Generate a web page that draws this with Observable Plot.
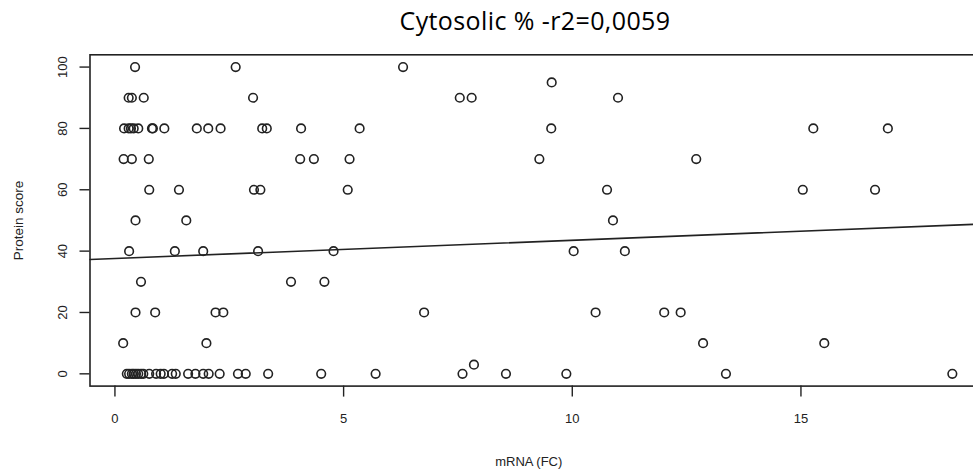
<!DOCTYPE html>
<html>
<head>
<meta charset="utf-8">
<script src="https://cdn.jsdelivr.net/npm/d3@7"></script>
<script src="https://cdn.jsdelivr.net/npm/@observablehq/plot@0.6"></script>
<style>
  body { margin: 0; background: #fff; }
  #title {
    width: 973px; height: 40px; box-sizing: border-box; padding-left: 97px;
    text-align: center; line-height: 40px; letter-spacing: 0.4px;
    font-family: "Open Sans", sans-serif; font-size: 25px; color: #000;
  }
</style>
</head>
<body>
<div id="title">Cytosolic % -r2=0,0059</div>
<div id="chart"></div>
<script>
// mRNA fold change and protein score, grouped by score level
const mRNA = [
  0.44, 2.64, 6.30,
  9.55,
  0.30, 0.37, 0.63, 3.02, 7.54, 7.80, 11.0,
  0.20, 0.30, 0.35, 0.41, 0.51, 0.81, 0.83, 1.08, 1.79, 2.04, 2.31, 3.22, 3.32, 4.07, 5.35, 9.54, 15.27, 16.90,
  0.19, 0.37, 0.74, 4.05, 4.35, 5.13, 9.28, 12.71,
  0.75, 1.40, 3.04, 3.18, 5.09, 10.76, 15.04, 16.62,
  0.45, 1.56, 10.89,
  0.31, 1.31, 1.93, 3.13, 4.78, 10.03, 11.15,
  0.57, 3.85, 4.58,
  0.45, 0.88, 2.20, 2.37, 6.76, 10.51, 12.01, 12.37,
  0.18, 2.00, 12.86, 15.51,
  7.85,
  0.26, 0.31, 0.37, 0.41, 0.46, 0.51, 0.57, 0.62, 0.75, 0.90, 1.00, 1.07, 1.25, 1.33, 1.60, 1.76, 1.93, 2.05, 2.29, 2.69, 2.86, 3.35, 4.51, 5.70, 7.60, 8.55, 9.87, 13.36, 18.31
];
const protein = [
  100, 100, 100,
  95,
  90, 90, 90, 90, 90, 90, 90,
  80, 80, 80, 80, 80, 80, 80, 80, 80, 80, 80, 80, 80, 80, 80, 80, 80, 80,
  70, 70, 70, 70, 70, 70, 70, 70,
  60, 60, 60, 60, 60, 60, 60, 60,
  50, 50, 50,
  40, 40, 40, 40, 40, 40, 40,
  30, 30, 30,
  20, 20, 20, 20, 20, 20, 20, 20,
  10, 10, 10, 10,
  3,
  0, 0, 0, 0, 0, 0, 0, 0, 0, 0, 0, 0, 0, 0, 0, 0, 0, 0, 0, 0, 0, 0, 0, 0, 0, 0, 0, 0, 0
];

// Fitted line coefficients (protein = intercept + slope * mRNA)
const intercept = 37.6;
const slope = 0.593;

const xTicks = [0, 5, 10, 15];
const yTicks = [0, 20, 40, 60, 80, 100];
const xLabel = "mRNA (FC)";
const yLabel = "Protein score";

const points = mRNA.map((x, i) => ({x, y: protein[i]}));

// R-style axis extents: data range padded by 4%
const xExtent = d3.extent(mRNA);
const xPad = (xExtent[1] - xExtent[0]) * 0.04;
const xDomain = [xExtent[0] - xPad, xExtent[1] + xPad];
const yDomain = [-4, 104];

const fitLine = xDomain.map(x => ({x, y: intercept + slope * x}));

const ink = "#222";
const font = "'Liberation Sans', Arial, sans-serif";

const chart = Plot.plot({
  width: 973,
  height: 432,
  marginLeft: 89.5,
  marginRight: -12,
  marginTop: 14.3,
  marginBottom: 86.4,
  x: {domain: xDomain, range: [89.5, 985]},
  y: {domain: yDomain},
  style: {fontFamily: font, overflow: "hidden", background: "#fff"},
  marks: [
    Plot.frame({stroke: ink, strokeWidth: 1.6}),
    Plot.axisX({ticks: xTicks, tickSize: 11, tickFormat: () => "", label: null, stroke: ink, strokeWidth: 1.4}),
    Plot.axisY({ticks: yTicks, tickSize: 10, tickFormat: () => "", label: null, stroke: ink, strokeWidth: 1.4}),
    Plot.text(xTicks, {x: d => d, frameAnchor: "bottom", dy: 32.4, text: d => String(d),
      fontSize: 13, fill: ink, lineAnchor: "middle"}),
    Plot.text(yTicks, {y: d => d, frameAnchor: "left", dx: -27.5, rotate: -90, text: d => String(d),
      fontSize: 13, fill: ink, textAnchor: "middle", lineAnchor: "middle"}),
    Plot.text([xLabel], {frameAnchor: "bottom", dx: -9, dy: 76, text: d => d,
      fontSize: 13, fill: ink, lineAnchor: "middle"}),
    Plot.text([yLabel], {frameAnchor: "left", dx: -71.5, rotate: -90, text: d => d,
      fontSize: 13.5, fill: ink, textAnchor: "middle", lineAnchor: "middle"}),
    Plot.line(fitLine, {x: "x", y: "y", stroke: ink, strokeWidth: 1.6}),
    Plot.dot(points, {x: "x", y: "y", r: 4.3, stroke: ink, strokeWidth: 1.6, fill: "none"})
  ]
});
document.getElementById("chart").appendChild(chart);
</script>
</body>
</html>
